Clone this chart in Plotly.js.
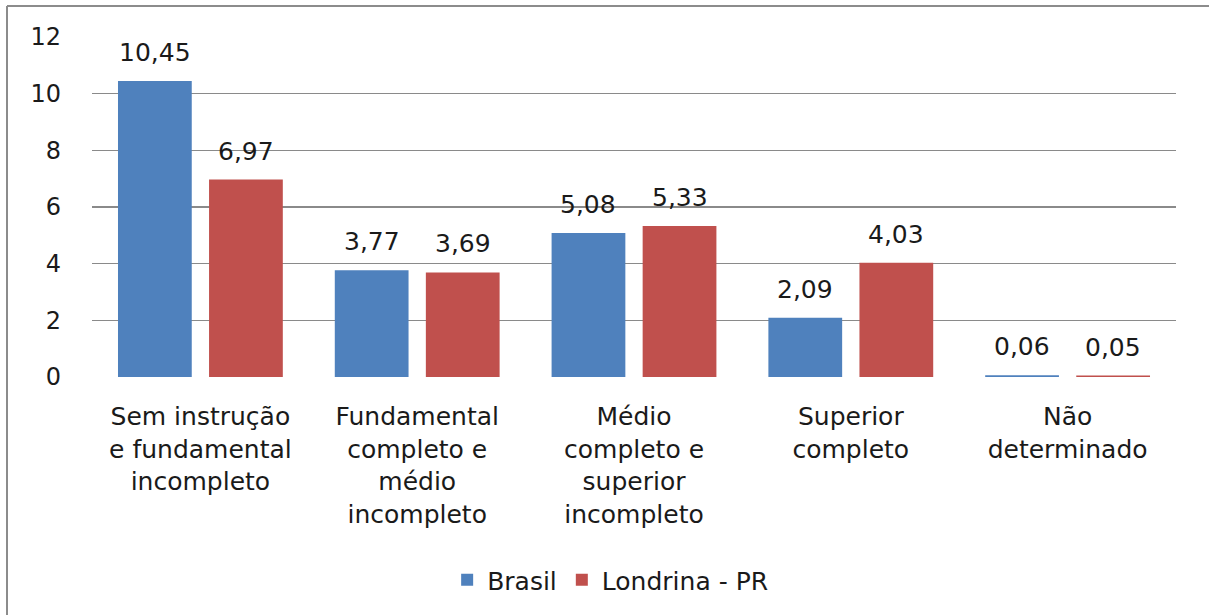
<!DOCTYPE html>
<html><head><meta charset="utf-8">
<script src="https://cdn.plot.ly/plotly-3.0.1.min.js"></script>
<style>html,body{margin:0;padding:0;background:#fff}#chart{width:1209px;height:615px}</style>
</head><body><div id="chart"></div>
<script>
const categories = [
  "Sem instrução<br>e fundamental<br>incompleto",
  "Fundamental<br>completo e<br>médio<br>incompleto",
  "Médio<br>completo e<br>superior<br>incompleto",
  "Superior<br>completo",
  "Não<br>determinado"
];
const brasil = [10.45, 3.77, 5.08, 2.09, 0.06];
const londrina = [6.97, 3.69, 5.33, 4.03, 0.05];
const seriesNames = ["Brasil", "Londrina - PR"];
const seriesColors = ["#4F81BD", "#C0504D"];
const yTicks = [0, 2, 4, 6, 8, 10, 12];

const fmt = v => v.toFixed(2).replace('.', ',');
const FONT = "DejaVu Sans, sans-serif";
const TXT = '#1a1a1a';
const BARGAP = 0.16;
const BARGROUPGAP = 0.19;

const seriesValues = [brasil, londrina];
const traces = seriesValues.map((vals, s) => ({
  type:'bar', name:seriesNames[s], x:categories, y:vals,
  marker:{color:seriesColors[s]}, hoverinfo:'none'
}));

// data labels, placed at each bar's centre (group slot offset on category axis)
const slot = (1 - BARGAP) / 2;
const annotations = [];
seriesValues.forEach((vals, s) => {
  vals.forEach((v, i) => {
    annotations.push({
      x: i + (s - 0.5) * slot, y: v, xref:'x', yref:'y',
      text: fmt(v), showarrow:false, yanchor:'bottom', xanchor:'center',
      yshift: 12, font:{size:25, family:FONT, color:TXT}
    });
  });
});

const layout = {
  width:1209, height:615,
  margin:{l:92, r:33, t:37, b:238},
  paper_bgcolor:'#fff', plot_bgcolor:'#fff',
  barmode:'group', bargap:BARGAP, bargroupgap:BARGROUPGAP,
  font:{family:FONT, color:TXT},
  xaxis:{showline:false, showgrid:false, zeroline:false, ticks:'', ticklabelstandoff:22,
         tickfont:{size:25, family:FONT, color:TXT}, tickangle:0, automargin:false},
  yaxis:{range:[0,12], tickvals:yTicks, showgrid:true, gridcolor:'#8a8a8a', gridwidth:1.5,
         zeroline:false, showline:false, ticks:'', ticklabelstandoff:30,
         tickfont:{size:24, family:FONT, color:TXT}, automargin:false},
  legend:{orientation:'h', xref:'paper', yref:'container', x:0.478, xanchor:'center',
          y:(615-580)/615, yanchor:'middle', itemwidth:30,
          font:{size:25, family:FONT, color:TXT}, traceorder:'normal'},
  annotations: annotations,
  shapes:[
    {type:'line', xref:'paper', yref:'paper', x0:-85/1084, x1:1.04, y0:1+31/340, y1:1+31/340,
     line:{color:'#8c8c8c', width:2}},
    {type:'line', xref:'paper', yref:'paper', x0:-85/1084, x1:-85/1084, y0:1+31/340, y1:-0.72,
     line:{color:'#8c8c8c', width:2}}
  ],
  showlegend:true
};
Plotly.newPlot('chart', traces, layout, {staticPlot:true, displayModeBar:false});
</script></body></html>
